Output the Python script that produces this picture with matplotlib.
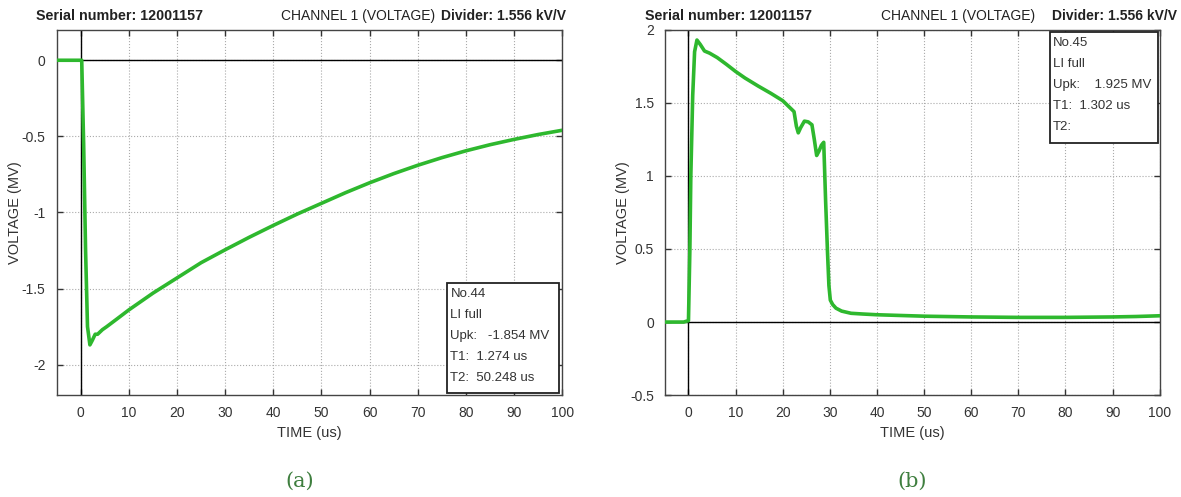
import matplotlib
matplotlib.use('Agg')
import matplotlib.pyplot as plt
from matplotlib.patches import Rectangle

plt.rcParams['font.family'] = ['Liberation Sans', 'DejaVu Sans']

# (a) LI full, negative polarity, No.44
t_a = [-5, -3, -1, 0, 0.2, 0.6, 1.0, 1.4, 1.9, 2.4, 3.0, 3.5, 4.5, 5.4, 7.5, 10, 12.5, 15, 17.5,
       20, 25, 30, 35, 40, 45, 50, 55, 60, 65, 70, 75, 80, 85, 90, 95, 100]
v_a = [0, 0, 0, 0, 0, -0.55, -1.25, -1.75, -1.87, -1.84, -1.80, -1.80, -1.77, -1.75, -1.70, -1.64,
       -1.585, -1.53, -1.48, -1.43, -1.33, -1.245, -1.163, -1.085, -1.01, -0.94, -0.87, -0.805,
       -0.745, -0.69, -0.64, -0.595, -0.555, -0.52, -0.488, -0.46]

# (b) LI full, chopped, No.45
t_b = [-5, -3, -1, 0, 0.3, 0.5, 0.9, 1.3, 1.8, 2.5, 3.4, 4.5, 6.1, 8, 10, 12, 14.8, 17.5, 20,
       22.4, 22.9, 23.3, 23.8, 24.6, 25.4, 26.2, 26.7, 27.2, 27.7, 28.2, 28.7, 29.1, 29.5, 29.8,
       30.1, 30.6, 31.3, 32.5, 34.5, 37, 40, 45, 50.2, 60, 70, 80, 90, 95, 100]
v_b = [0, 0, 0, 0.01, 0.5, 1.0, 1.55, 1.85, 1.93, 1.90, 1.855, 1.84, 1.81, 1.765, 1.715, 1.67,
       1.615, 1.565, 1.515, 1.44, 1.34, 1.295, 1.33, 1.375, 1.37, 1.35, 1.25, 1.14, 1.17, 1.21,
       1.23, 0.83, 0.48, 0.25, 0.15, 0.12, 0.095, 0.075, 0.06, 0.055, 0.05, 0.045, 0.04, 0.035,
       0.032, 0.032, 0.035, 0.038, 0.043]

info_a = ['No.44', 'LI full', 'Upk:   -1.854 MV', 'T1:  1.274 us', 'T2:  50.248 us']
info_b = ['No.45', 'LI full', 'Upk:    1.925 MV', 'T1:  1.302 us', 'T2:']

x_ticks = [0, 10, 20, 30, 40, 50, 60, 70, 80, 90, 100]
y_ticks_a = [0, -0.5, -1, -1.5, -2]
y_ticks_b = [2, 1.5, 1, 0.5, 0, -0.5]

GREEN = '#2eb82e'
TXT = '#333333'

fig = plt.figure(figsize=(11.81, 4.97), dpi=100)
ax_a = fig.add_axes([0.048, 0.205, 0.428, 0.735])
ax_b = fig.add_axes([0.563, 0.205, 0.419, 0.735])


def style(ax, ylim, yticks, ytl):
    ax.set_xlim(-5, 100)
    ax.set_ylim(*ylim)
    ax.set_xticks(x_ticks)
    ax.set_yticks(yticks)
    ax.set_yticklabels(ytl)
    ax.grid(True, color='#aaaaaa', linestyle=':', linewidth=0.8)
    ax.set_axisbelow(True)
    ax.tick_params(direction='in', top=True, right=True, length=4, width=1,
                   labelsize=10, labelcolor=TXT, colors='#333333', pad=8)
    for s in ax.spines.values():
        s.set_color('#444444')
        s.set_linewidth(1)
    ax.axhline(0, color='black', lw=1, zorder=1)
    ax.axvline(0, color='black', lw=1, zorder=1)
    ax.set_xlabel('TIME (us)', fontsize=10.5, color=TXT, labelpad=4)
    ax.set_ylabel('VOLTAGE (MV)', fontsize=10.5, color=TXT, labelpad=0)


style(ax_a, (-2.2, 0.2), y_ticks_a, ['0', '-0.5', '-1', '-1.5', '-2'])
style(ax_b, (-0.5, 2.0), y_ticks_b, ['2', '1.5', '1', '0.5', '0', '-0.5'])

ax_a.plot(t_a, v_a, color=GREEN, lw=2.6, zorder=3)
ax_b.plot(t_b, v_b, color=GREEN, lw=2.6, zorder=3)

# info boxes (axes fractions: x0, x1, y0, y1); lines ~21 px apart
step = 20.8 / 365
for ax, info, (x0, x1, y0, y1) in [(ax_a, info_a, (0.773, 0.994, 0.006, 0.307)),
                                   (ax_b, info_b, (0.778, 0.996, 0.69, 0.994))]:
    ax.add_patch(Rectangle((x0, y0), x1 - x0, y1 - y0, transform=ax.transAxes,
                           fc='white', ec='#222222', lw=1.3, zorder=5))
    for k, line in enumerate(info):
        ax.text(x0 + 0.006, y1 - 0.031 - k * step, line, transform=ax.transAxes,
                fontsize=9.5, color=TXT, va='center', ha='left', zorder=6)

# headers
for x_l, x_m, x_r in [(36, 435, 566), (645, 1035, 1177)]:
    fig.text(x_l / 1181, 0.968, 'Serial number: 12001157', fontsize=10.3, fontweight='bold',
             color='#222222', ha='left', va='center')
    fig.text(x_m / 1181, 0.968, 'CHANNEL 1 (VOLTAGE)', fontsize=10, color='#222222',
             ha='right', va='center')
    fig.text(x_r / 1181, 0.968, 'Divider: 1.556 kV/V', fontsize=10, fontweight='bold',
             color='#222222', ha='right', va='center')

# captions
fig.text(300 / 1181, 1 - 481 / 497, '(a)', fontsize=15, family='DejaVu Serif',
         color='#3f7f3f', ha='center', va='center')
fig.text(912 / 1181, 1 - 481 / 497, '(b)', fontsize=15, family='DejaVu Serif',
         color='#3f7f3f', ha='center', va='center')

fig.savefig('out.png', dpi=100)
